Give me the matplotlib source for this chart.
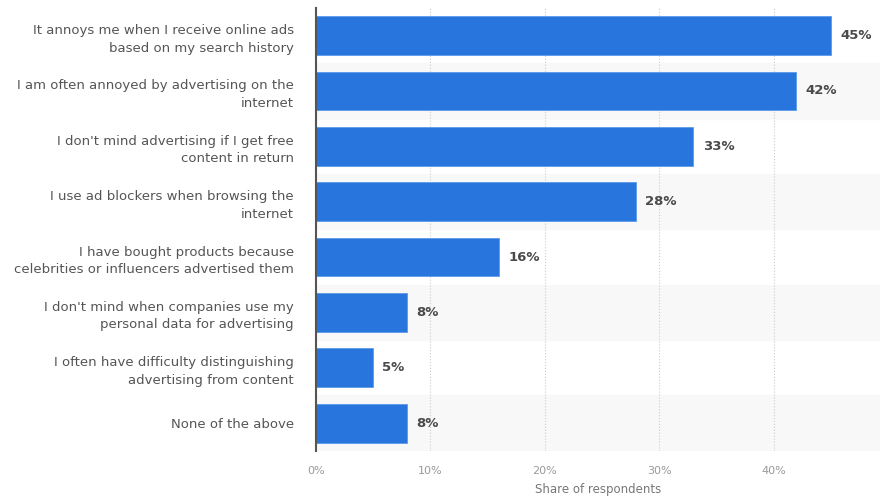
import numpy as np
import matplotlib.pyplot as plt

statements = [
    "It annoys me when I receive online ads\nbased on my search history",
    "I am often annoyed by advertising on the\ninternet",
    "I don't mind advertising if I get free\ncontent in return",
    "I use ad blockers when browsing the\ninternet",
    "I have bought products because\ncelebrities or influencers advertised them",
    "I don't mind when companies use my\npersonal data for advertising",
    "I often have difficulty distinguishing\nadvertising from content",
    "None of the above",
]
shares = [45, 42, 33, 28, 16, 8, 5, 8]
x_ticks = [0, 10, 20, 30, 40]

plt.rcParams['font.family'] = ['DejaVu Sans']

fig = plt.figure(figsize=(8.8, 4.96), dpi=100)
ax = fig.add_axes([0.359, 0.091, 0.641, 0.893])

y = np.arange(len(statements))
ax.set_ylim(len(statements) - 0.5, -0.5)
ax.set_xlim(0, 49.3)

# alternating row shading
for i in y:
    if i % 2 == 1:
        ax.axhspan(i - 0.5, i + 0.5, color='#f8f8f8', zorder=0)

ax.barh(y, shares, height=0.7, color='#2876dd', edgecolor='#5a9be8',
        linewidth=0.6, zorder=3)

for yi, v in zip(y, shares):
    ax.text(v + 0.8, yi, f"{v}%", va='center', ha='left', fontsize=9.5,
            fontweight='bold', color='#4a4a4a', zorder=4)

ax.set_yticks(y)
ax.set_yticklabels(statements, fontsize=9.5, color='#555555', ha='right',
                   linespacing=1.45)
ax.tick_params(axis='y', length=0, pad=16)

ax.set_xticks(x_ticks)
ax.set_xticklabels([f"{t}%" for t in x_ticks], fontsize=8, color='#999999')
ax.tick_params(axis='x', length=0, pad=11)
ax.set_xlabel("Share of respondents", fontsize=8.5, color='#777777', labelpad=5)

ax.grid(axis='x', color='#cccccc', linestyle=':', linewidth=0.8, zorder=1)
ax.set_axisbelow(True)

for side in ['top', 'right', 'bottom']:
    ax.spines[side].set_visible(False)
ax.spines['left'].set_color('#555555')
ax.spines['left'].set_linewidth(1.5)
ax.spines['left'].set_zorder(5)

fig.savefig("out.png", dpi=100)
